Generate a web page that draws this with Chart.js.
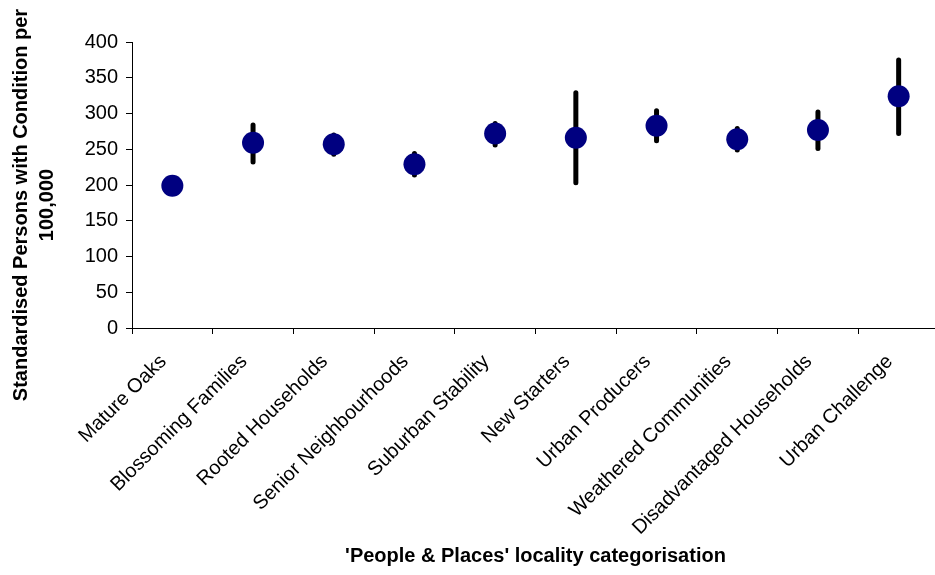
<!DOCTYPE html>
<html>
<head>
<meta charset="utf-8">
<script src="https://cdn.jsdelivr.net/npm/chart.js@4.4.1/dist/chart.umd.min.js"></script>
<style>
  html, body { margin: 0; padding: 0; background: #ffffff; overflow: hidden; }
  canvas { display: block; }
</style>
</head>
<body>
<canvas id="chart" width="950" height="575"></canvas>
<script>
// 'People & Places' locality categories
const categories = [
  'Mature Oaks', 'Blossoming Families', 'Rooted Households', 'Senior Neighbourhoods',
  'Suburban Stability', 'New Starters', 'Urban Producers', 'Weathered Communities',
  'Disadvantaged Households', 'Urban Challenge'
];
// Standardised persons with condition per 100,000
const rates   = [199, 259, 257, 229, 272, 266, 283, 264, 277, 324];
// Confidence interval limits
const lowerCI = [191, 232, 243, 214, 256, 203, 262, 249, 251, 272];
const upperCI = [207, 284, 270, 244, 286, 329, 304, 279, 302, 375];
// Value axis range
const yMin = 0, yMax = 400, yStep = 50;

const FONT = "'Liberation Sans', Arial, Helvetica, sans-serif";

// Vertical interval bars drawn beneath the markers
const errorBars = {
  id: 'errorBars',
  beforeDatasetsDraw(chart) {
    const { ctx, scales: { x, y } } = chart;
    ctx.save();
    ctx.strokeStyle = '#000000';
    ctx.lineWidth = 5;
    ctx.lineCap = 'round';
    categories.forEach((c, i) => {
      const px = x.getPixelForValue(i);
      ctx.beginPath();
      ctx.moveTo(px, y.getPixelForValue(lowerCI[i]));
      ctx.lineTo(px, y.getPixelForValue(upperCI[i]));
      ctx.stroke();
    });
    ctx.restore();
  }
};

// Two-line rotated title for the value axis
const yTitle = {
  id: 'yTitle',
  afterDraw(chart) {
    const { ctx } = chart;
    ctx.save();
    ctx.fillStyle = '#000000';
    ctx.font = 'bold 20px ' + FONT;
    ctx.textAlign = 'center';
    ctx.textBaseline = 'middle';
    ctx.translate(0, 205);
    ctx.rotate(-Math.PI / 2);
    ctx.fillText('Standardised Persons with Condition per', 0, 21);
    ctx.fillText('100,000', 0, 47);
    ctx.restore();
  }
};

new Chart(document.getElementById('chart'), {
  type: 'line',
  data: {
    labels: categories,
    datasets: [{
      data: rates,
      showLine: false,
      pointRadius: 11,
      pointHoverRadius: 11,
      pointBackgroundColor: '#000080',
      pointBorderColor: '#000080',
      pointBorderWidth: 0
    }]
  },
  options: {
    responsive: false,
    animation: false,
    events: [],
    layout: { padding: { top: 42, right: 1, left: 0, bottom: 0 } },
    plugins: { legend: { display: false }, tooltip: { enabled: false } },
    scales: {
      x: {
        type: 'category',
        offset: true,
        grid: { offset: true, drawOnChartArea: false, color: '#000000', tickLength: 6, tickWidth: 1 },
        border: { color: '#000000', width: 1 },
        ticks: {
          color: '#000000', font: { family: FONT, size: 20 },
          maxRotation: 45, minRotation: 45, padding: 16, labelOffset: -9, autoSkip: false
        },
        title: {
          display: true, text: "'People & Places' locality categorisation",
          color: '#000000', font: { family: FONT, size: 20, weight: 'bold' },
          padding: { top: 0, bottom: 7 }
        },
        afterFit(s) { s.height = 247; s.paddingLeft = 0; s.paddingRight = 0; }
      },
      y: {
        min: yMin, max: yMax,
        grid: { drawOnChartArea: false, color: '#000000', tickLength: 6, tickWidth: 1 },
        border: { color: '#000000', width: 1 },
        ticks: { stepSize: yStep, color: '#000000', font: { family: FONT, size: 20 }, padding: 8 },
        afterFit(s) { s.width = 132; }
      }
    }
  },
  plugins: [errorBars, yTitle]
});
</script>
</body>
</html>
